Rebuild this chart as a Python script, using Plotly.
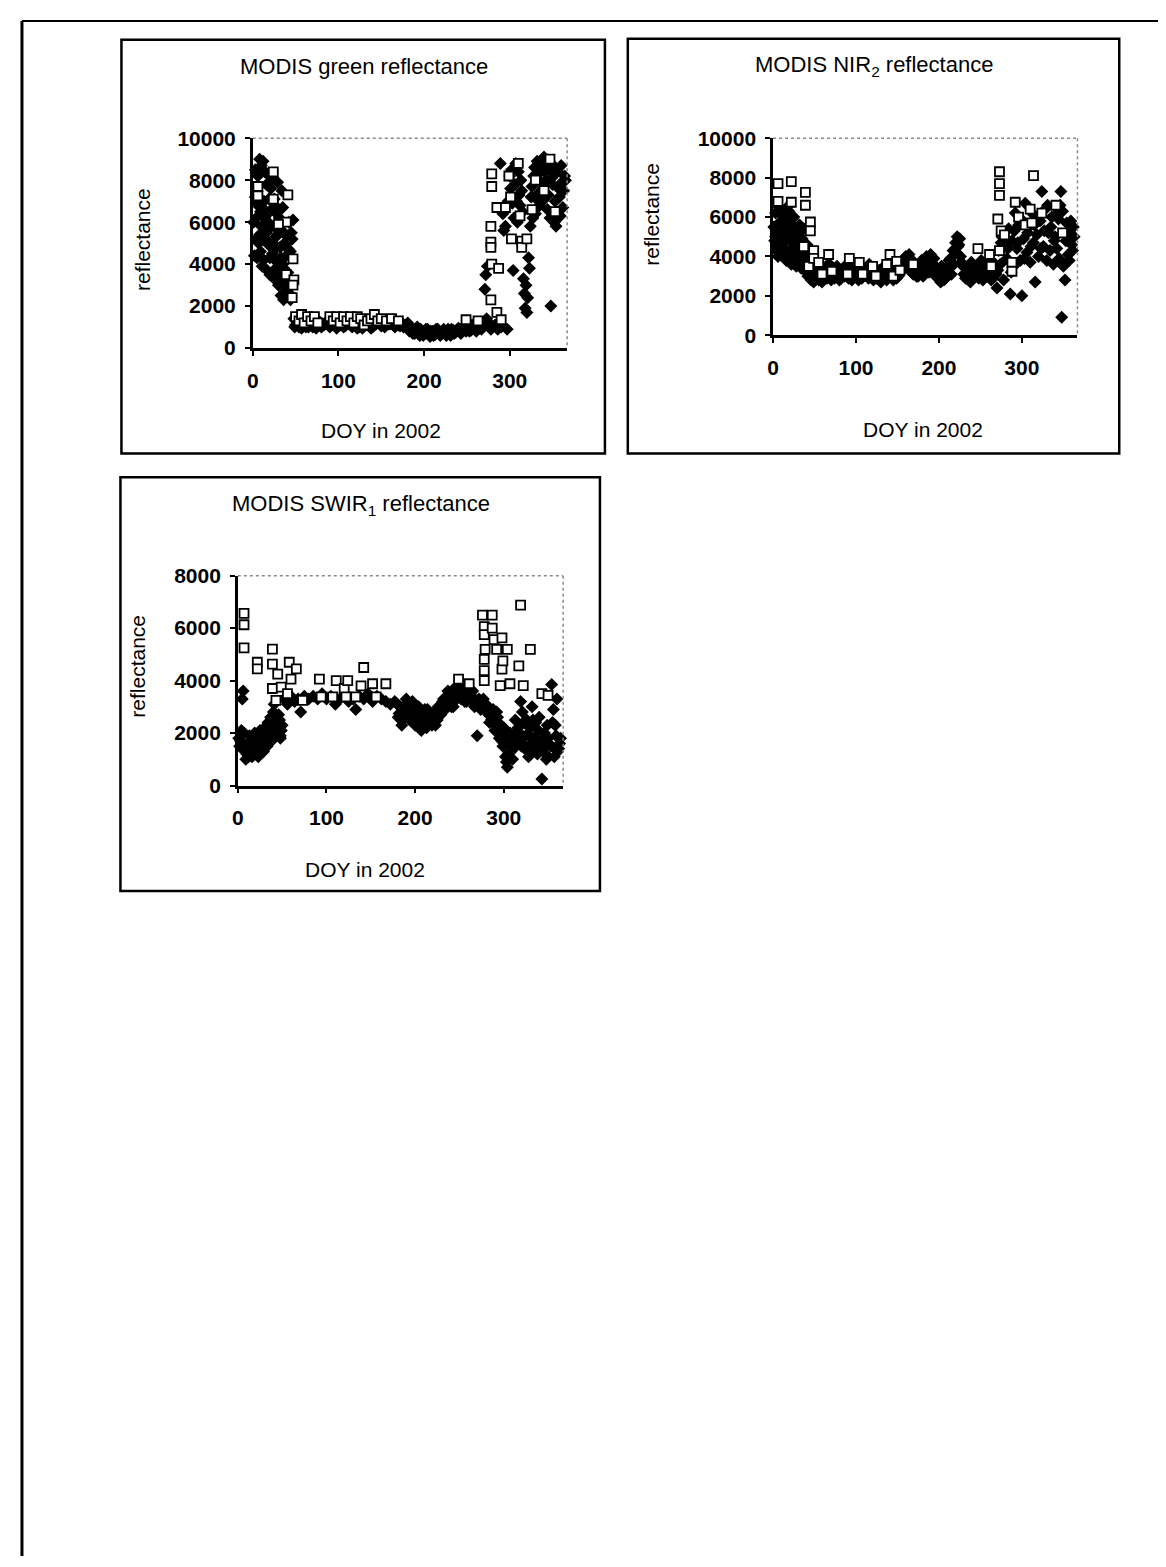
import plotly.graph_objects as go

# Browser page: body has an 8px margin, so the figure is drawn 8px in from the corner.
OFF = 8
W, H = 1166 - OFF, 1567 - OFF

# ---------------- DATA ----------------
# Panel 1: MODIS green reflectance
green_dia_doy = [2, 3, 4, 5, 5, 6, 7, 8, 8, 9, 10, 11, 11, 12, 12, 13, 14, 15, 15, 16, 17, 18, 19, 20, 20, 21, 22, 23, 24, 25, 26, 26, 27, 28, 29, 30, 30, 31, 32, 33, 34, 34, 35, 36, 37, 38, 38, 39, 40, 41, 42, 43, 44, 44, 46, 47,
                 1, 3, 4, 6, 7, 9, 10, 13, 14, 16, 17, 19, 21, 22, 24, 25, 27, 28, 29, 31, 33, 35, 36, 37, 39, 40, 42, 43, 45,
                 48, 50, 52, 54, 56, 58, 60, 62, 64, 66, 68, 70, 72, 75, 78, 81, 84, 88, 92, 96, 100, 104, 108, 112, 116, 120, 124, 128, 132, 136, 140, 144, 148, 152, 156, 160, 164, 168, 172, 176,
                 49, 53, 57, 61, 65, 69, 74, 77, 80, 83, 86, 90, 94, 98, 102, 106, 110, 114, 118, 122, 126, 130, 134, 138, 142, 146, 150, 154, 158, 162, 166, 170, 174, 178,
                 180, 183, 186, 189, 192, 195, 198, 201, 204, 207, 210, 213, 216, 219, 222, 225, 228, 231, 234, 237, 240, 243, 246, 249, 252, 255, 258, 261, 264, 267,
                 181, 184, 187, 190, 193, 196, 199, 202, 205, 208, 211, 214, 217, 220, 223, 226, 229, 232, 235, 238, 241, 244, 247, 250, 253, 256, 259, 262, 265, 268,
                 270, 271, 272, 273, 274, 276, 278, 280, 283, 286, 289, 290, 292, 293, 295, 297, 298,
                 300, 302, 304, 305, 306, 308, 310, 312, 314, 316, 317, 318, 319, 320, 322, 324, 326, 328, 330, 332, 334, 336, 338, 339, 340, 342, 343, 344, 346, 348, 350, 352, 354, 356, 358, 360, 361, 362, 364,
                 301, 303, 307, 309, 311, 313, 315, 321, 323, 325, 327, 329, 331, 333, 335, 337, 341, 345, 347, 349, 351, 353, 355, 357, 359, 363, 365]
green_dia_val = [4400, 8500, 6200, 4300, 7000, 8200, 5000, 9000, 5400, 4600, 8700, 6700, 3900, 5500, 8900, 4200, 8400, 5200, 6300, 7800, 3700, 6000, 4900, 3500, 4300, 7600, 5800, 4500, 8000, 3300, 6800, 4700, 5300, 4100, 7900, 3000, 5600, 6200, 4800, 2500, 5600, 7500, 4000, 2300, 5000, 3200, 5400, 4400, 2800, 3600, 6000, 2600, 4600, 2300, 5200, 6100,
                 6000, 7200, 5200, 6800, 7700, 6500, 5800, 7000, 6200, 5500, 8300, 7100, 4900, 6600, 5000, 7100, 3800, 6400, 5400, 3400, 4300, 6700, 3800, 3000, 2900, 5000, 4700, 3300, 5500,
                 1400, 1100, 1300, 1000, 1200, 1100, 1350, 1000, 1250, 1100, 1200, 1000, 1300, 1100, 1250, 1050, 1150, 1300, 1100, 1200, 1100, 1250, 1050, 1200, 1000, 1150, 1000, 950, 1100, 1250, 1000, 1150, 1300, 1200, 1250, 1150, 1100, 1200, 1050, 1000,
                 1000, 1200, 950, 1150, 1000, 1300, 950, 1200, 1000, 1100, 1250, 1000, 1200, 950, 1100, 1000, 1150, 1250, 1100, 950, 1200, 1050, 1200, 950, 1100, 1250, 1050, 1000, 1150, 1300, 1000, 1100, 1200, 1100,
                 1000, 800, 900, 700, 1000, 600, 800, 700, 900, 550, 800, 650, 900, 600, 800, 700, 900, 600, 850, 750, 950, 700, 900, 800, 1000, 850, 950, 800, 1000, 900,
                 1200, 1000, 700, 900, 800, 900, 600, 900, 700, 800, 600, 900, 700, 700, 900, 600, 750, 900, 700, 850, 800, 950, 1000, 900, 800, 1100, 900, 1100, 950, 1200,
                 1100, 2800, 3500, 1400, 3900, 1200, 900, 1000, 1100, 900, 8800, 1000, 6400, 5600, 5800, 900, 7000,
                 8200, 8500, 3700, 6200, 7800, 7000, 8400, 6800, 7500, 3300, 2600, 1900, 3000, 1700, 4300, 5800, 7700, 8200, 6400, 8900, 7400, 8600, 7000, 7800, 9100, 8000, 8800, 6600, 8500, 2000, 7800, 6000, 5800, 8400, 7200, 8700, 7900, 6700, 8200,
                 7600, 6900, 8800, 6000, 7300, 8000, 6500, 2400, 3800, 7200, 6200, 8600, 7100, 8300, 6800, 7900, 8400, 7300, 6200, 8100, 8700, 7000, 6500, 7600, 6300, 7500, 8000]
green_sq_doy = [6, 6, 24, 24, 41, 39, 47, 39, 48, 47, 46, 30,
                50, 54, 57, 60, 64, 68, 72, 76, 90, 94, 98, 102, 106, 110, 114, 118, 122, 126, 130, 134, 138, 142, 146, 150, 156, 162, 170,
                249, 263, 278, 278, 279, 279, 278, 279, 287, 278, 285, 290, 285, 295, 299, 301, 302, 310, 312, 314, 314, 330, 326, 347, 353, 340, 320]
green_sq_val = [7700, 7250, 8400, 7100, 7300, 6000, 4250, 3500, 3250, 3000, 2400, 5900,
                1500, 1300, 1600, 1200, 1500, 1300, 1500, 1200, 1500, 1300, 1500, 1200, 1500, 1300, 1500, 1200, 1500, 1400, 1100, 1300, 1400, 1600, 1300, 1400, 1300, 1400, 1300,
                1350, 1300, 5800, 5050, 8300, 7700, 4800, 4000, 3800, 2300, 1700, 1350, 6700, 6700, 8200, 7200, 5200, 8800, 6300, 5100, 4800, 8000, 6600, 9000, 6500, 7500, 5200]

# Panel 2: MODIS NIR2 reflectance
nir_dia_doy = [2, 3, 4, 5, 6, 7, 8, 9, 10, 11, 12, 13, 14, 15, 16, 17, 18, 19, 20, 21, 22, 23, 24, 25, 26, 27, 28, 29, 30, 31, 32, 33, 34, 35, 36, 37, 38, 39, 40, 41, 42, 43, 44, 45, 46, 47, 48, 49, 50,
               1, 3, 5, 7, 9, 11, 13, 15, 17, 19, 21, 23, 25, 27, 29, 31, 33, 35, 37, 39, 41, 43, 45, 47, 49,
               52, 55, 58, 61, 64, 67, 70, 73, 76, 79, 82, 85, 88, 91, 94, 97, 100, 103, 106, 109, 112, 115, 118, 121, 124, 127, 130, 133, 136, 139, 142, 145, 148, 151, 154, 157, 160, 163, 166, 169, 172, 175, 178,
               53, 56, 59, 62, 65, 68, 71, 74, 77, 80, 83, 86, 89, 92, 95, 98, 101, 104, 107, 110, 113, 116, 119, 122, 125, 128, 131, 134, 137, 140, 143, 146, 149, 152, 155, 158, 161, 164, 167, 170, 173, 176, 179,
               181, 184, 187, 190, 193, 196, 199, 202, 205, 208, 211, 214, 217, 220, 222, 224, 226, 229, 232, 235, 238, 241, 244, 247, 250, 253, 256, 259, 262, 265, 268,
               182, 185, 188, 191, 194, 197, 200, 203, 206, 209, 212, 215, 218, 221, 223, 225, 227, 230, 233, 236, 239, 242, 245, 248, 251, 254, 257, 260, 263, 266, 269,
               270, 272, 274, 276, 278, 280, 282, 284, 286, 288, 290, 292, 294, 296, 298, 300, 302, 304, 306, 308, 310, 312, 314, 316, 318, 320, 322, 324, 326, 328, 330, 332, 334, 336, 338, 340, 342, 344, 346, 347, 348, 350, 352, 353, 354, 356, 358, 360, 362,
               271, 275, 279, 283, 287, 291, 295, 299, 303, 307, 311, 315, 319, 323, 327, 331, 335, 339, 343, 345, 349, 355, 357, 359, 361, 363]
nir_dia_val = [4800, 6200, 4300, 5600, 4000, 5200, 6400, 4600, 5800, 4200, 5000, 6000, 4400, 5400, 3800, 5700, 4900, 6300, 4100, 5300, 3600, 5900, 4700, 3900, 5500, 4300, 3500, 5100, 4600, 3800, 5600, 4200, 3400, 4900, 3700, 4500, 3300, 4100, 3500, 4400, 3000, 3800, 3200, 4200, 2800, 3500, 3100, 2700, 3300,
               5500, 5000, 6600, 4500, 5300, 6100, 4700, 4200, 6500, 5500, 4800, 4400, 6000, 5100, 4200, 5300, 4600, 3900, 5400, 3800, 4600, 3600, 3900, 3200, 3000,
               3000, 2800, 3300, 2900, 3500, 3100, 2800, 3400, 3000, 3200, 2900, 3300, 3100, 2900, 3400, 3000, 3200, 2800, 3300, 3000, 3400, 2900, 3100, 2800, 3300, 3000, 2700, 3200, 2900, 3300, 3100, 2800, 3400, 3000, 3200, 3700, 4000, 3600, 3300, 3100, 3500, 3000, 3200,
               3400, 3100, 2700, 3300, 2900, 3600, 3200, 2900, 3500, 2800, 3300, 3000, 3600, 3200, 2800, 3300, 3500, 3000, 2900, 3300, 3100, 3600, 3000, 3400, 2900, 3300, 3100, 3500, 2800, 3000, 3400, 3200, 2900, 3500, 3400, 3900, 3500, 4100, 3200, 3700, 3000, 3400, 3800,
               3000, 3500, 3800, 4100, 3600, 3000, 3300, 2700, 3100, 2900, 3500, 3900, 4300, 4700, 5000, 4600, 4000, 3500, 2900, 3200, 2700, 3400, 3000, 3600, 3200, 2800, 3500, 3100, 3300, 2900, 3600,
               3300, 4000, 3200, 3700, 3900, 3400, 2900, 3500, 2800, 3300, 3800, 3100, 3600, 4200, 4500, 4900, 3700, 3100, 3400, 2800, 3700, 3100, 3300, 2900, 3800, 3400, 3000, 3700, 2800, 3400, 3100,
               2400, 4300, 3600, 5000, 2800, 4600, 3900, 5400, 2100, 4800, 3500, 6200, 4400, 5600, 3800, 2000, 4900, 6700, 4200, 5500, 3700, 6200, 4700, 2700, 5100, 4000, 5800, 7300, 4500, 6400, 3800, 5200, 4300, 6000, 3600, 5000, 4400, 5900, 6600, 7300, 920, 3500, 2800, 4800, 5700, 4100, 5200, 4600, 5500,
               3300, 4700, 5200, 4400, 3200, 5300, 4700, 5900, 3900, 5200, 4500, 5600, 6000, 4400, 5300, 6600, 5500, 4800, 6200, 3900, 6300, 5100, 3800, 5800, 4300, 5000]
nir_sq_doy = [6, 6, 22, 22, 39, 39, 45, 45, 37, 43, 49, 49, 55, 59, 67, 71, 92, 90, 104, 108, 120, 124, 137, 141, 145, 149, 153, 169,
              247, 261, 263, 273, 273, 273, 271, 275, 279, 273, 288, 288, 292, 296, 304, 310, 314, 312, 324, 341, 349]
nir_sq_val = [7700, 6800, 7800, 6750, 7250, 6600, 5750, 5300, 4500, 3500, 4300, 3900, 3700, 3100, 4100, 3250, 3900, 3100, 3700, 3100, 3500, 3000, 3600, 4100, 3000, 3750, 3300, 3600,
              4400, 4100, 3500, 8300, 7700, 7100, 5900, 5300, 5100, 4300, 3700, 3250, 6750, 6000, 5600, 6400, 8100, 5700, 6200, 6600, 5200]

# Panel 3: MODIS SWIR1 reflectance
swir_dia_doy = [1, 2, 3, 5, 6, 7, 9, 10, 11, 12, 13, 14, 15, 16, 17, 18, 19, 20, 21, 22, 23, 24, 25, 26, 27, 28, 29, 30, 31, 32, 33, 34, 35, 36, 37, 38, 39, 40, 41, 42, 43, 44, 45, 46, 47, 48, 49, 50,
                4, 8, 10, 12, 14, 16, 18, 20, 22, 24, 26, 28, 30, 32, 34, 36, 38, 40, 42, 44, 46, 48,
                52, 56, 60, 64, 68, 71, 75, 80, 85, 90, 95, 100, 105, 110, 115, 120, 125, 130, 133, 137, 142, 147, 152, 157, 162, 167, 172, 177,
                180, 182, 184, 186, 188, 190, 193, 196, 199, 202, 204, 206, 208, 210, 212, 214, 216, 219, 222, 225, 228, 231, 234, 237, 240, 243, 246, 249, 252, 255, 258, 261, 264, 268,
                181, 183, 185, 187, 189, 191, 194, 197, 200, 203, 205, 207, 209, 211, 213, 215, 217, 220, 223, 226, 229, 232, 235, 238, 241, 244, 247, 250, 253, 256, 259, 262, 265, 267,
                270, 272, 275, 278, 281, 283, 286, 288, 291, 293, 296, 298, 300, 302, 304, 306, 308, 311, 313, 315, 317, 319, 321, 323, 326, 328, 330, 332, 334, 336, 339, 341, 343, 345, 347, 349, 351, 354, 356, 358, 360, 362, 364,
                271, 274, 277, 280, 284, 287, 290, 292, 295, 297, 299, 301, 303, 305, 307, 310, 312, 314, 316, 318, 320, 322, 325, 327, 329, 331, 333, 335, 338, 340, 342, 344, 346, 348, 350, 353, 355, 357, 359, 361, 363]
swir_dia_val = [1800, 1500, 1700, 3300, 3600, 2000, 1000, 1200, 1600, 1100, 1900, 1300, 1500, 1100, 1700, 1400, 2000, 1200, 1600, 1800, 1100, 1500, 2100, 1400, 1700, 2000, 1300, 2200, 1600, 1900, 1500, 2400, 1800, 2100, 2600, 1700, 2000, 2800, 3100, 2300, 1900, 2600, 2200, 2000, 2500, 1800, 2100, 2300,
                2100, 1300, 1500, 1400, 1700, 1300, 1800, 1500, 1300, 1900, 1600, 1800, 1400, 2000, 2200, 1900, 2400, 2300, 2600, 2400, 2700, 1900,
                3300, 3100, 3400, 3200, 3300, 2800, 3400, 3300, 3400, 3300, 3500, 3300, 3400, 3100, 3300, 3400, 3200, 3300, 2900, 3400, 3300, 3500, 3200, 3400, 3300, 3200, 3100, 3200,
                3100, 2750, 2500, 2900, 2600, 3300, 3000, 2800, 2600, 2400, 3000, 2500, 2200, 2700, 2400, 2900, 2600, 2300, 2800, 2500, 2900, 3200, 2900, 3600, 3300, 3000, 3500, 3700, 3300, 3600, 3200, 3400, 3400, 3100,
                2600, 3000, 2300, 2700, 3100, 2800, 2500, 3200, 2300, 2800, 2600, 2100, 2500, 2900, 2200, 2600, 2400, 2700, 2300, 3000, 2700, 3300, 3100, 3400, 3000, 3700, 3300, 3500, 3700, 3200, 3500, 3300, 3600, 3000,
                1900, 3300, 3100, 3000, 2800, 2700, 2500, 2900, 2300, 2600, 2000, 1700, 2200, 1100, 700, 1600, 1300, 1400, 2500, 2100, 1700, 3200, 2800, 1500, 2500, 1100, 1900, 3000, 1300, 2400, 2100, 1500, 250, 1800, 1200, 2300, 1600, 3850, 2900, 2300, 3300, 1400, 1800,
                3200, 2900, 3300, 3100, 2400, 2600, 2100, 2800, 1800, 2300, 1500, 1900, 900, 1200, 2000, 1000, 1800, 1600, 2200, 2000, 1500, 2400, 1900, 1300, 2200, 1600, 2500, 1800, 1200, 2600, 1700, 1400, 2000, 1000, 1800, 1500, 2400, 1100, 1900, 1300, 1600]
swir_sq_doy = [7, 7, 7, 22, 22, 39, 39, 39, 45, 49, 43, 58, 60, 56, 66, 73, 92, 94, 107, 111, 120, 124, 122, 133, 139, 142, 152, 156, 167,
               249, 261, 276, 278, 278, 279, 278, 278, 278, 287, 287, 289, 292, 298, 304, 298, 299, 296, 307, 317, 319, 330, 322, 343, 350]
swir_sq_val = [6560, 6130, 5250, 4700, 4450, 5200, 4630, 3700, 4250, 3750, 3250, 4700, 4060, 3500, 4450, 3250, 4060, 3380, 3380, 4000, 3700, 4000, 3380, 3380, 3800, 4500, 3880, 3380, 3880,
               4060, 3880, 6500, 6060, 5750, 5190, 4810, 4380, 4000, 6500, 6000, 5560, 5190, 5630, 5190, 4440, 4750, 3810, 3880, 4560, 6880, 5190, 3810, 3500, 3440]

x_tick_vals = [0, 100, 200, 300]
x_tick_text = ["0", "100", "200", "300"]
titles = ["MODIS green reflectance", "MODIS NIR<sub>2</sub> reflectance", "MODIS SWIR<sub>1</sub> reflectance"]
x_title = "DOY in 2002"
y_title = "reflectance"
y_max = [10000, 10000, 8000]

# ---------------- LAYOUT (pixel geometry, page coordinates) ----------------
FONT = "Liberation Sans, Arial, sans-serif"
plot_px = [(248, 128, 564, 341), (771, 128, 1077, 328), (233, 572, 560, 785)]
box_px = [(116, 28, 602, 448), (625, 27, 1119, 448), (115, 472, 597, 892)]
title_px = [(360, 55), (872, 55), (357, 500)]
ytitle_px = [(137, 231), (648, 205), (132, 664)]
xtitle_px = [(377, 425), (922, 424), (361, 870)]


def fx(px):
    return (px - OFF) / W


def fy(py):
    return 1 - (py - OFF) / H


fig = go.Figure()
series = [
    (green_dia_doy, green_dia_val, green_sq_doy, green_sq_val),
    (nir_dia_doy, nir_dia_val, nir_sq_doy, nir_sq_val),
    (swir_dia_doy, swir_dia_val, swir_sq_doy, swir_sq_val),
]

shapes = []
annotations = []
for i, (dx, dy, sx, sy) in enumerate(series):
    n = "" if i == 0 else str(i + 1)
    fig.add_trace(go.Scatter(x=dx, y=dy, mode="markers", xaxis="x" + n, yaxis="y" + n,
                             marker=dict(symbol="diamond", size=10, color="black", line=dict(width=0)),
                             cliponaxis=False, showlegend=False))
    fig.add_trace(go.Scatter(x=sx, y=sy, mode="markers", xaxis="x" + n, yaxis="y" + n,
                             marker=dict(symbol="square", size=9, color="white", line=dict(width=1.8, color="black")),
                             cliponaxis=False, showlegend=False))
    l, t, r, b = plot_px[i]
    fig.update_layout(**{
        "xaxis" + n: dict(domain=[fx(l), fx(r)], anchor="y" + n, range=[0, 367],
                          tickvals=x_tick_vals, ticktext=x_tick_text, ticks="outside", ticklen=5,
                          tickwidth=2, tickcolor="black", showline=True, linecolor="black", linewidth=2.5,
                          showgrid=False, zeroline=False, ticklabelstandoff=7,
                          tickfont=dict(family=FONT, size=21, color="black", weight="bold")),
        "yaxis" + n: dict(domain=[fy(b), fy(t)], anchor="x" + n, range=[0, y_max[i]], dtick=2000,
                          tickformat="d", ticks="outside", ticklen=5, tickwidth=2, tickcolor="black",
                          showline=True, linecolor="black", linewidth=2.5, showgrid=False, zeroline=False,
                          ticklabelstandoff=5,
                          tickfont=dict(family=FONT, size=21, color="black", weight="bold")),
    })
    # dotted grey plot-area border (top and right)
    shapes.append(dict(type="line", xref="paper", yref="paper", x0=fx(l), x1=fx(r), y0=fy(t), y1=fy(t),
                       line=dict(color="#8a8a8a", width=1.5, dash="dot")))
    shapes.append(dict(type="line", xref="paper", yref="paper", x0=fx(r), x1=fx(r), y0=fy(t), y1=fy(b),
                       line=dict(color="#8a8a8a", width=1.5, dash="dot")))
    # panel frame
    bl, bt, br, bb = box_px[i]
    shapes.append(dict(type="rect", xref="paper", yref="paper", x0=fx(bl), x1=fx(br), y0=fy(bb), y1=fy(bt),
                       line=dict(color="black", width=2.5), fillcolor="rgba(0,0,0,0)"))
    # texts
    annotations.append(dict(text=titles[i], x=fx(title_px[i][0]), y=fy(title_px[i][1]), xref="paper", yref="paper",
                            showarrow=False, xanchor="center", yanchor="middle",
                            font=dict(family=FONT, size=22, color="black")))
    annotations.append(dict(text=y_title, x=fx(ytitle_px[i][0]), y=fy(ytitle_px[i][1]), xref="paper", yref="paper",
                            showarrow=False, xanchor="center", yanchor="middle", textangle=-90,
                            font=dict(family=FONT, size=21, color="black")))
    annotations.append(dict(text=x_title, x=fx(xtitle_px[i][0]), y=fy(xtitle_px[i][1]), xref="paper", yref="paper",
                            showarrow=False, xanchor="center", yanchor="middle",
                            font=dict(family=FONT, size=21, color="black")))

# page frame (left, top, right)
shapes.append(dict(type="line", xref="paper", yref="paper", x0=fx(16), x1=fx(16), y0=0, y1=fy(9),
                   line=dict(color="black", width=3)))
shapes.append(dict(type="line", xref="paper", yref="paper", x0=fx(16), x1=fx(1164), y0=fy(9), y1=fy(9),
                   line=dict(color="black", width=2)))
shapes.append(dict(type="line", xref="paper", yref="paper", x0=fx(1164), x1=fx(1164), y0=0, y1=fy(9),
                   line=dict(color="black", width=3)))

fig.update_layout(width=W, height=H, margin=dict(l=0, r=0, t=0, b=0),
                  paper_bgcolor="white", plot_bgcolor="white", showlegend=False,
                  shapes=shapes, annotations=annotations,
                  font=dict(family=FONT, color="black"))

fig.write_html("out.html")
